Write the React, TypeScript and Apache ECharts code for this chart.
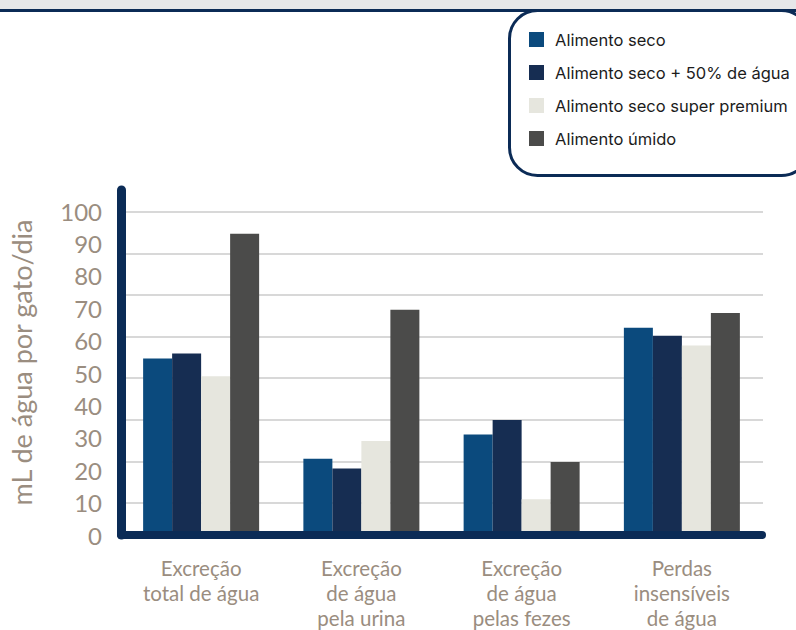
import React, { useEffect, useRef } from "react";
import * as echarts from "echarts";

const categories = [
  "Excreção\ntotal de água",
  "Excreção\nde água\npela urina",
  "Excreção\nde água\npelas fezes",
  "Perdas\ninsensíveis\nde água",
];
const seriesNames = [
  "Alimento seco",
  "Alimento seco + 50% de água",
  "Alimento seco super premium",
  "Alimento úmido",
];
const seco = [54.5, 23.5, 31, 64];
const secoAgua = [56, 20.5, 35.5, 61.5];
const superPremium = [49, 29, 11, 58.5];
const umido = [93, 69.5, 22.5, 68.5];
const yAxisTitle = "mL de água por gato/dia";
const yLabelMax = 100;
const yLabelStep = 10;

const colors = ["#0b4a7d", "#162d52", "#e6e6de", "#4b4b4a"];
const navy = "#0b2b56";
const taupe = "#9a8d80";

export default function App() {
  const ref = useRef<HTMLDivElement>(null);
  useEffect(() => {
    if (!ref.current) return;
    const chart = echarts.init(ref.current, undefined, { renderer: "svg" });
    const values = [seco, secoAgua, superPremium, umido];
    chart.setOption({
      animation: false,
      backgroundColor: "#ffffff",
      grid: [
        { left: 118, right: 34, top: 190, bottom: 95 },
        { left: 122, right: 33, top: 211.7, bottom: 127 },
      ],
      legend: {
        data: seriesNames,
        orient: "vertical",
        left: 529,
        top: 31,
        padding: 0,
        itemWidth: 15,
        itemHeight: 15,
        itemGap: 16,
        icon: "rect",
        selectedMode: false,
        z: 10,
        textStyle: {
          fontSize: 16.5,
          color: "#1c1c1c",
          fontFamily: "Inter",
          padding: [0, 0, 0, 6],
        },
      },
      xAxis: [
        {
          type: "category",
          gridIndex: 0,
          data: categories,
          offset: 6,
          z: 5,
          axisLine: { lineStyle: { color: navy, width: 8, cap: "round" } },
          axisTick: { show: false },
          axisLabel: {
            interval: 0,
            color: taupe,
            fontSize: 20.5,
            lineHeight: 25,
            margin: 14,
            fontFamily: "Lato",
          },
        },
        { type: "value", gridIndex: 1, show: false },
      ],
      yAxis: [
        {
          type: "value",
          gridIndex: 0,
          min: 0,
          max: 106.5,
          interval: yLabelStep,
          name: yAxisTitle,
          nameLocation: "middle",
          nameGap: 86,
          nameRotate: 90,
          nameTextStyle: { color: taupe, fontSize: 27, fontFamily: "Lato" },
          axisLine: { show: true, lineStyle: { color: navy, width: 9, cap: "round" } },
          axisTick: { show: false },
          splitLine: { show: false },
          axisLabel: {
            color: taupe,
            fontSize: 24,
            margin: 19,
            fontFamily: "Lato",
            showMaxLabel: false,
            formatter: (v: number) =>
              v <= yLabelMax && v % yLabelStep === 0 ? String(v) : "",
          },
        },
        {
          type: "value",
          gridIndex: 1,
          min: 0,
          max: 7,
          interval: 1,
          axisLine: { show: false },
          axisTick: { show: false },
          axisLabel: { show: false },
          splitLine: { show: true, lineStyle: { color: "#d8d8d8", width: 2 } },
        },
      ],
      series: seriesNames.map((name, i) => ({
        name,
        type: "bar",
        xAxisIndex: 0,
        yAxisIndex: 0,
        barWidth: 29,
        barGap: "0%",
        itemStyle: { color: colors[i] },
        data: values[i],
      })),
      graphic: [
        {
          type: "rect",
          z: 0,
          shape: { x: 0, y: 0, width: 796, height: 10 },
          style: { fill: "#e6e7e9" },
        },
        {
          type: "line",
          z: 1,
          shape: { x1: 0, y1: 10.5, x2: 796, y2: 10.5 },
          style: { stroke: navy, lineWidth: 3 },
        },
        {
          type: "rect",
          z: 2,
          shape: { x: 509.5, y: 10.5, width: 300, height: 165, r: 28 },
          style: { fill: "#ffffff", stroke: navy, lineWidth: 3 },
        },
      ],
    });
    return () => chart.dispose();
  }, []);
  return (
    <div
      ref={ref}
      style={{ position: "fixed", left: 0, top: 0, width: 796, height: 630 }}
    />
  );
}
